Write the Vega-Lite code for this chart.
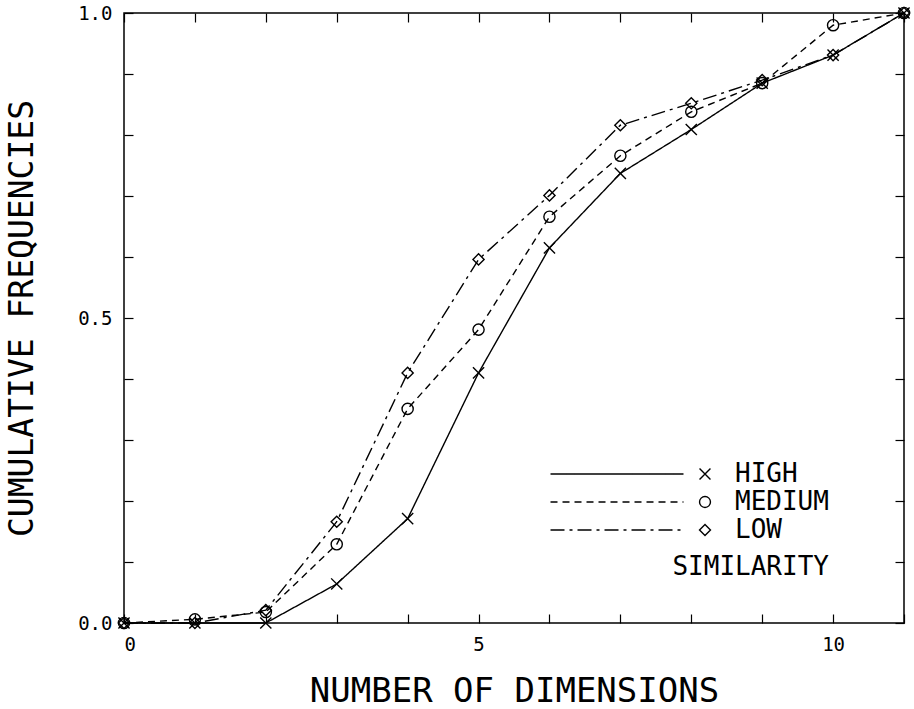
{
  "$schema": "https://vega.github.io/schema/vega-lite/v6.json",
  "width": 780,
  "height": 610,
  "autosize": "none",
  "padding": {"left": 124, "top": 13, "right": 10, "bottom": 86},
  "background": "white",
  "config": {
    "view": {"stroke": "black", "strokeWidth": 1.5},
    "font": "DejaVu Sans Mono",
    "axis": {
      "domain": false,
      "grid": false,
      "tickColor": "black",
      "tickWidth": 1.2,
      "labelColor": "black",
      "titleColor": "black",
      "labelFont": "DejaVu Sans Mono",
      "titleFont": "DejaVu Sans Mono",
      "titleFontWeight": "normal"
    }
  },
  "data": {
    "values": [
      {"dims": 0, "freq": 0, "sim": "HIGH"},
      {"dims": 1, "freq": 0, "sim": "HIGH"},
      {"dims": 2, "freq": 0, "sim": "HIGH"},
      {"dims": 3, "freq": 0.064, "sim": "HIGH"},
      {"dims": 4, "freq": 0.171, "sim": "HIGH"},
      {"dims": 5, "freq": 0.41, "sim": "HIGH"},
      {"dims": 6, "freq": 0.615, "sim": "HIGH"},
      {"dims": 7, "freq": 0.737, "sim": "HIGH"},
      {"dims": 8, "freq": 0.809, "sim": "HIGH"},
      {"dims": 9, "freq": 0.885, "sim": "HIGH"},
      {"dims": 10, "freq": 0.931, "sim": "HIGH"},
      {"dims": 11, "freq": 1.0, "sim": "HIGH"},
      {"dims": 0, "freq": 0, "sim": "MEDIUM"},
      {"dims": 1, "freq": 0.006, "sim": "MEDIUM"},
      {"dims": 2, "freq": 0.018, "sim": "MEDIUM"},
      {"dims": 3, "freq": 0.129, "sim": "MEDIUM"},
      {"dims": 4, "freq": 0.351, "sim": "MEDIUM"},
      {"dims": 5, "freq": 0.481, "sim": "MEDIUM"},
      {"dims": 6, "freq": 0.666, "sim": "MEDIUM"},
      {"dims": 7, "freq": 0.766, "sim": "MEDIUM"},
      {"dims": 8, "freq": 0.838, "sim": "MEDIUM"},
      {"dims": 9, "freq": 0.885, "sim": "MEDIUM"},
      {"dims": 10, "freq": 0.98, "sim": "MEDIUM"},
      {"dims": 11, "freq": 1.0, "sim": "MEDIUM"},
      {"dims": 0, "freq": 0, "sim": "LOW"},
      {"dims": 1, "freq": 0, "sim": "LOW"},
      {"dims": 2, "freq": 0.021, "sim": "LOW"},
      {"dims": 3, "freq": 0.166, "sim": "LOW"},
      {"dims": 4, "freq": 0.41, "sim": "LOW"},
      {"dims": 5, "freq": 0.596, "sim": "LOW"},
      {"dims": 6, "freq": 0.701, "sim": "LOW"},
      {"dims": 7, "freq": 0.816, "sim": "LOW"},
      {"dims": 8, "freq": 0.852, "sim": "LOW"},
      {"dims": 9, "freq": 0.89, "sim": "LOW"},
      {"dims": 10, "freq": 0.931, "sim": "LOW"},
      {"dims": 11, "freq": 1.0, "sim": "LOW"}
    ]
  },
  "layer": [
    {
      "mark": {"type": "line", "color": "black", "strokeWidth": 1.4},
      "encoding": {
        "x": {
          "field": "dims", "type": "quantitative",
          "scale": {"domain": [0, 11], "nice": false, "zero": false},
          "axis": {
            "orient": "bottom",
            "values": [0, 1, 2, 3, 4, 5, 6, 7, 8, 9, 10, 11],
            "tickSize": -9,
            "labelExpr": "datum.value % 5 == 0 ? datum.label : ''",
            "labelFontSize": 19,
            "labelPadding": 21,
            "title": "NUMBER OF DIMENSIONS",
            "titleFontSize": 34,
            "titleY": 78,
            "titleBaseline": "alphabetic"
          }
        },
        "y": {
          "field": "freq", "type": "quantitative",
          "scale": {"domain": [0, 1], "nice": false},
          "axis": {
            "orient": "left",
            "values": [0, 0.1, 0.2, 0.3, 0.4, 0.5, 0.6, 0.7, 0.8, 0.9, 1.0],
            "tickSize": -9,
            "labelExpr": "abs(datum.value * 2 - round(datum.value * 2)) < 0.001 ? format(datum.value, '.1f') : ''",
            "labelFontSize": 19,
            "labelPadding": 21,
            "title": "CUMULATIVE FREQUENCIES",
            "titleFontSize": 33,
            "titlePadding": 38
          }
        },
        "strokeDash": {
          "field": "sim", "type": "nominal",
          "sort": ["HIGH", "MEDIUM", "LOW"],
          "scale": {"range": [[1, 0], [7, 5], [14, 5, 3, 5]]},
          "legend": {
            "orient": "none",
            "legendX": 480,
            "legendY": 448,
            "title": null,
            "labelOpacity": 0,
            "labelFontSize": 26,
            "symbolType": "M-12.09,0L12.09,0",
            "symbolSize": 121,
            "symbolStrokeColor": "black",
            "symbolStrokeWidth": 1.3,
            "rowPadding": 2,
            "padding": 0
          }
        }
      }
    },
    {
      "mark": {"type": "point", "filled": false, "color": "black", "strokeWidth": 1.4, "size": 125, "opacity": 1},
      "encoding": {
        "x": {
          "field": "dims", "type": "quantitative",
          "axis": {"orient": "top", "values": [0, 1, 2, 3, 4, 5, 6, 7, 8, 9, 10, 11], "tickSize": -9, "labels": false, "title": null}
        },
        "y": {
          "field": "freq", "type": "quantitative",
          "axis": {"orient": "right", "values": [0, 0.1, 0.2, 0.3, 0.4, 0.5, 0.6, 0.7, 0.8, 0.9, 1.0], "tickSize": -9, "labels": false, "title": null}
        },
        "shape": {
          "field": "sim", "type": "nominal",
          "scale": {"domain": ["HIGH", "MEDIUM", "LOW"], "range": ["M-1,-1L1,1M-1,1L1,-1", "circle", "diamond"]},
          "legend": {
            "orient": "none",
            "legendX": 538,
            "legendY": 448,
            "title": "SIMILARITY",
            "titleOrient": "bottom",
            "titleAnchor": "end",
            "titleFontSize": 26,
            "titleFont": "DejaVu Sans Mono",
            "titleFontWeight": "normal",
            "titleColor": "black",
            "titlePadding": 11,
            "labelFontSize": 26,
            "labelFont": "DejaVu Sans Mono",
            "labelColor": "black",
            "labelOffset": 17,
            "symbolOffset": 30,
            "symbolSize": 120,
            "symbolStrokeColor": "black",
            "symbolStrokeWidth": 1.4,
            "symbolFillColor": "transparent",
            "rowPadding": 2,
            "padding": 0
          }
        }
      }
    }
  ],
  "resolve": {"axis": {"x": "independent", "y": "independent"}}
}
